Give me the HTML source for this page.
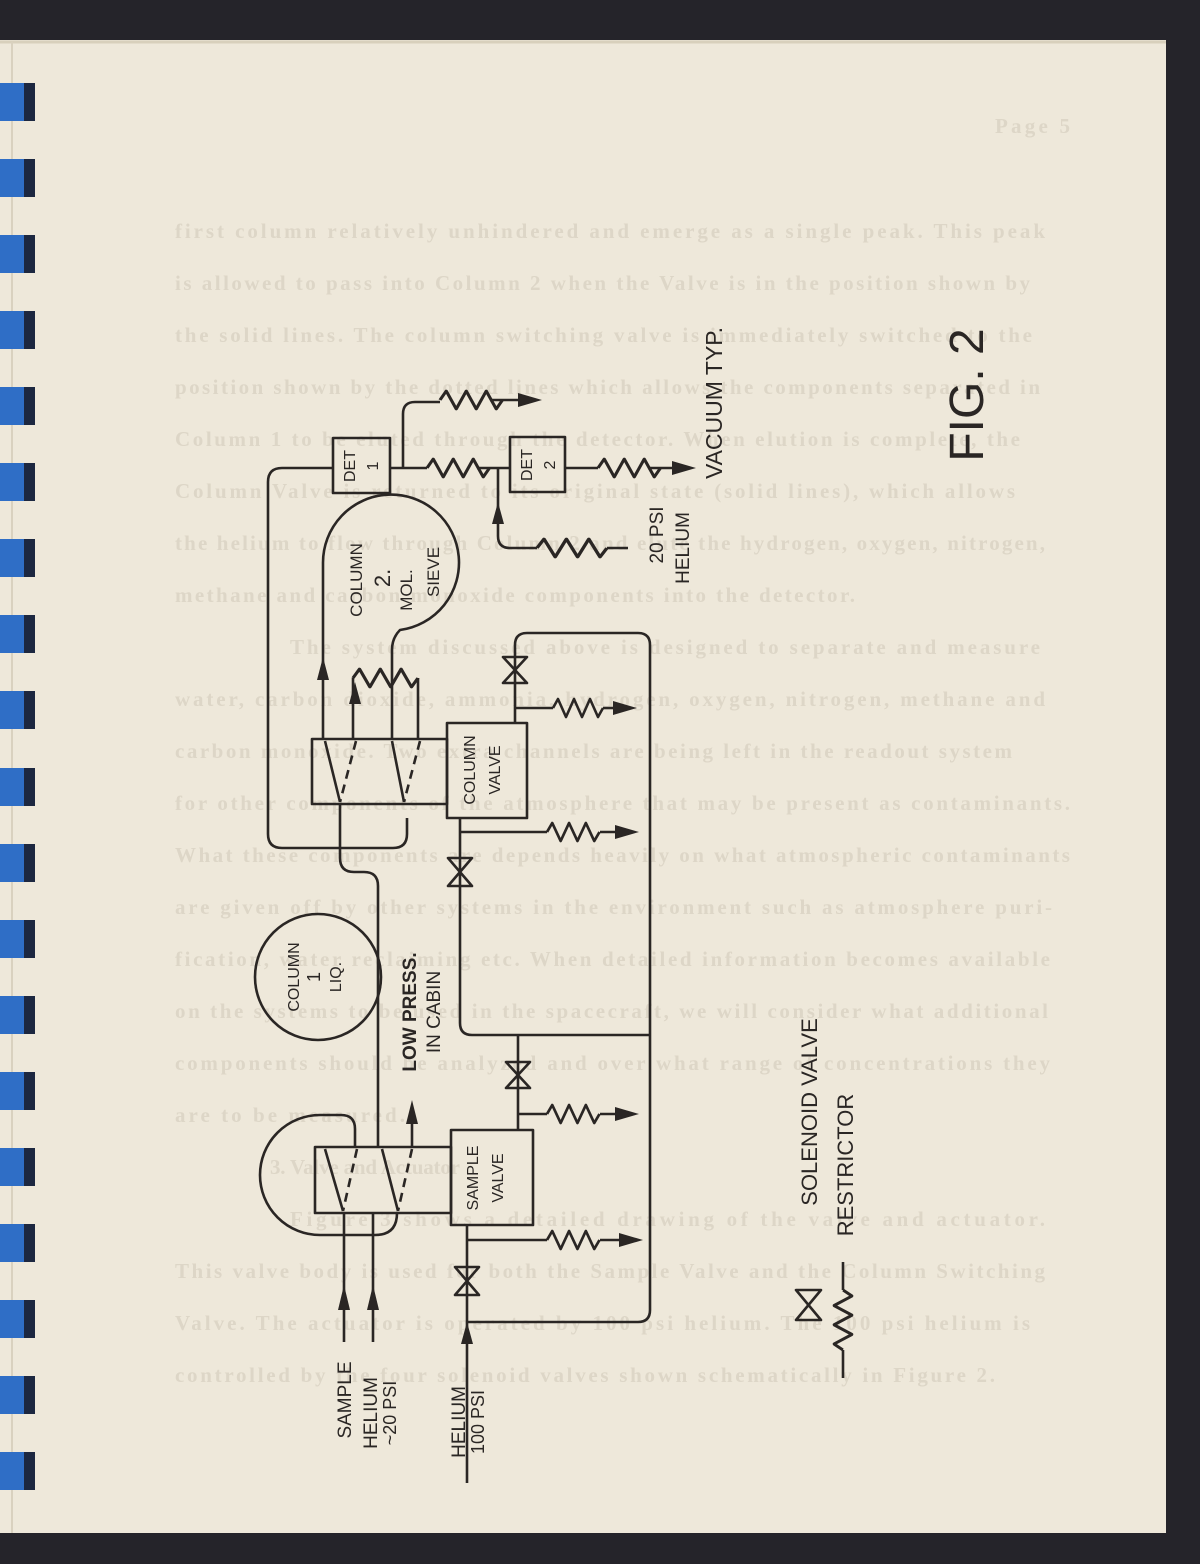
<!DOCTYPE html>
<html><head><meta charset="utf-8"><style>
html,body{margin:0;padding:0;background:#25242a;}
#wrap{position:relative;width:1200px;height:1564px;overflow:hidden;background:#25242a;}
svg{position:absolute;left:0;top:0;}
</style></head><body><div id="wrap">
<svg width="1200" height="1564" viewBox="0 0 1200 1564" xmlns="http://www.w3.org/2000/svg">
<defs>
<path id="rz" d="M0,0 l5,-9 l8,18 l8,-18 l8,18 l8,-18 l8,18 l5,-9"/>
</defs>
<rect x="0" y="40" width="1166" height="1493" fill="#eee8da"/>
<line x1="0" y1="42" x2="1166" y2="42" stroke="#d8d0bc" stroke-width="3"/>
<line x1="12" y1="42" x2="12" y2="1533" stroke="#d9d1bf" stroke-width="2"/>
<g font-family="Liberation Serif, serif" font-size="21" font-weight="bold" fill="#ddd6c7" lengthAdjust="spacing">
<text x="995" y="133" textLength="75">Page 5</text>
<text x="175" y="238" textLength="870">first column relatively unhindered and emerge as a single peak.  This peak</text>
<text x="175" y="290" textLength="855">is allowed to pass into Column 2 when the Valve is in the position shown by</text>
<text x="175" y="342" textLength="857">the solid lines.  The column switching valve is immediately switched to the</text>
<text x="175" y="394" textLength="865">position shown by the dotted lines which allows the components separated in</text>
<text x="175" y="446" textLength="845">Column 1 to be eluted through the detector.  When elution is complete, the</text>
<text x="175" y="498" textLength="840">Column Valve is returned to its original state (solid lines), which allows</text>
<text x="175" y="550" textLength="870">the helium to flow through Column 2 and elute the hydrogen, oxygen, nitrogen,</text>
<text x="175" y="602" textLength="680">methane and carbon monoxide components into the detector.</text>
<text x="290" y="654" textLength="750">The system discussed above is designed to separate and measure</text>
<text x="175" y="706" textLength="870">water, carbon dioxide, ammonia, hydrogen, oxygen, nitrogen, methane and</text>
<text x="175" y="758" textLength="837">carbon monoxide.  Two extra channels are being left in the readout system</text>
<text x="175" y="810" textLength="895">for other components of the atmosphere that may be present as contaminants.</text>
<text x="175" y="862" textLength="895">What these components are depends heavily on what atmospheric contaminants</text>
<text x="175" y="914" textLength="877">are given off by other systems in the environment such as atmosphere puri-</text>
<text x="175" y="966" textLength="875">fication, water reclaiming etc.  When detailed information becomes available</text>
<text x="175" y="1018" textLength="873">on the systems to be used in the spacecraft, we will consider what additional</text>
<text x="175" y="1070" textLength="875">components should be analyzed and over what range of concentrations they</text>
<text x="175" y="1122" textLength="230">are to be measured.</text>
<text x="270" y="1174" textLength="190">3.  Valve and Actuator</text>
<text x="290" y="1226" textLength="755">Figure 3 shows a detailed drawing of the valve and actuator.</text>
<text x="175" y="1278" textLength="870">This valve body is used for both the Sample Valve and the Column Switching</text>
<text x="175" y="1330" textLength="855">Valve.  The actuator is operated by 100 psi helium.  The 100 psi helium is</text>
<text x="175" y="1382" textLength="820">controlled by the four solenoid valves shown schematically in Figure 2.</text>
</g>
<g>
<rect x="0" y="83" width="24" height="38" fill="#2f6ec6"/><rect x="24" y="83" width="11" height="38" fill="#1c2740"/>
<rect x="0" y="159" width="24" height="38" fill="#2f6ec6"/><rect x="24" y="159" width="11" height="38" fill="#1c2740"/>
<rect x="0" y="235" width="24" height="38" fill="#2f6ec6"/><rect x="24" y="235" width="11" height="38" fill="#1c2740"/>
<rect x="0" y="311" width="24" height="38" fill="#2f6ec6"/><rect x="24" y="311" width="11" height="38" fill="#1c2740"/>
<rect x="0" y="387" width="24" height="38" fill="#2f6ec6"/><rect x="24" y="387" width="11" height="38" fill="#1c2740"/>
<rect x="0" y="463" width="24" height="38" fill="#2f6ec6"/><rect x="24" y="463" width="11" height="38" fill="#1c2740"/>
<rect x="0" y="539" width="24" height="38" fill="#2f6ec6"/><rect x="24" y="539" width="11" height="38" fill="#1c2740"/>
<rect x="0" y="615" width="24" height="38" fill="#2f6ec6"/><rect x="24" y="615" width="11" height="38" fill="#1c2740"/>
<rect x="0" y="691" width="24" height="38" fill="#2f6ec6"/><rect x="24" y="691" width="11" height="38" fill="#1c2740"/>
<rect x="0" y="768" width="24" height="38" fill="#2f6ec6"/><rect x="24" y="768" width="11" height="38" fill="#1c2740"/>
<rect x="0" y="844" width="24" height="38" fill="#2f6ec6"/><rect x="24" y="844" width="11" height="38" fill="#1c2740"/>
<rect x="0" y="920" width="24" height="38" fill="#2f6ec6"/><rect x="24" y="920" width="11" height="38" fill="#1c2740"/>
<rect x="0" y="996" width="24" height="38" fill="#2f6ec6"/><rect x="24" y="996" width="11" height="38" fill="#1c2740"/>
<rect x="0" y="1072" width="24" height="38" fill="#2f6ec6"/><rect x="24" y="1072" width="11" height="38" fill="#1c2740"/>
<rect x="0" y="1148" width="24" height="38" fill="#2f6ec6"/><rect x="24" y="1148" width="11" height="38" fill="#1c2740"/>
<rect x="0" y="1224" width="24" height="38" fill="#2f6ec6"/><rect x="24" y="1224" width="11" height="38" fill="#1c2740"/>
<rect x="0" y="1300" width="24" height="38" fill="#2f6ec6"/><rect x="24" y="1300" width="11" height="38" fill="#1c2740"/>
<rect x="0" y="1376" width="24" height="38" fill="#2f6ec6"/><rect x="24" y="1376" width="11" height="38" fill="#1c2740"/>
<rect x="0" y="1452" width="24" height="38" fill="#2f6ec6"/><rect x="24" y="1452" width="11" height="38" fill="#1c2740"/>
</g>
<g fill="none" stroke="#2a2624" stroke-width="2.6" stroke-linejoin="round">
<path d="M333,468 L282,468 Q268,468 268,482 L268,834 Q268,848 282,848 L393,848 Q407,848 407,834 L407,818"/>
<rect x="333" y="438" width="57" height="55"/>
<rect x="510" y="437" width="55" height="55"/>
<path d="M390,468 L427,468"/><use href="#rz" transform="translate(427,468) scale(1.25,1)"/><path d="M477,468 L510,468"/>
<path d="M403,468 L403,414 Q403,402 415,402 L440,402"/><use href="#rz" transform="translate(440,400) scale(1.25,1)"/><path d="M490,400 L522,400"/>
<path d="M565,468 L598,468"/><use href="#rz" transform="translate(598,468) scale(1.25,1)"/><path d="M648,468 L678,468"/>
<path d="M498,468 L498,536 Q498,548 510,548 L537,548"/><use href="#rz" transform="translate(537,548) scale(1.4,1)"/><path d="M607,548 L628,548"/>
<path d="M323,739 L323,563 A68,68 0 1 1 400,630 Q392,638 392,650 L392,739"/>
<path d="M353,739 L353,678"/><use href="#rz" transform="translate(353,678) scale(1.3,1)"/><path d="M418,678 L418,739"/>
<rect x="312" y="739" width="135" height="65"/>
<rect x="447" y="723" width="80" height="95"/>
<path d="M325,741 L340,802 M392,741 L404,802"/>
<path d="M356,741 L340,802 M420,741 L404,802" stroke-dasharray="9,6"/>
<path d="M515,723 L515,645 Q515,633 527,633 L638,633 Q650,633 650,645 L650,1310 Q650,1322 638,1322 L467,1322"/>
<path d="M515,708 L553,708"/><use href="#rz" transform="translate(553,708) scale(1.0,1)"/><path d="M603,708 L618,708"/>
<path d="M460,818 L460,1023 Q460,1035 472,1035 L650,1035"/>
<path d="M460,832 L547,832"/><use href="#rz" transform="translate(547,832) scale(1.05,1)"/><path d="M600,832 L620,832"/>
<path d="M518,1035 L518,1130"/>
<path d="M518,1114 L547,1114"/><use href="#rz" transform="translate(547,1114) scale(1.05,1)"/><path d="M600,1114 L620,1114"/>
<rect x="451" y="1130" width="82" height="95"/>
<rect x="315" y="1147" width="136" height="66"/>
<path d="M467,1225 L467,1483"/>
<path d="M467,1240 L547,1240"/><use href="#rz" transform="translate(547,1240) scale(1.05,1)"/><path d="M600,1240 L624,1240"/>
<circle cx="318" cy="977" r="63"/>
<path d="M340,804 L340,858 Q340,872 354,872 L364,872 Q378,872 378,886 L378,1147"/>
<path d="M355,1147 L355,1129 Q355,1115 341,1115 L320,1115 A60,60 0 0 0 320,1235 L375,1235 Q397,1235 397,1213"/>
<path d="M325,1149 L343,1211 M382,1149 L398,1211"/>
<path d="M357,1149 L343,1211 M412,1149 L398,1211" stroke-dasharray="9,6"/>
<path d="M412,1147 L412,1115"/>
<path d="M344,1213 L344,1342 M373,1213 L373,1342"/>
<path d="M843,1262 L843,1290"/><use href="#rz" transform="translate(843,1290) rotate(90) scale(1.2,1)"/><path d="M843,1350 L843,1378"/>
</g>
<g fill="none" stroke="#2a2624" stroke-width="2.6" stroke-linejoin="round">
<path d="M503,657 L527,657 L503,683 L527,683 Z"/>
<path d="M448,858 L472,858 L448,886 L472,886 Z"/>
<path d="M506,1062 L530,1062 L506,1088 L530,1088 Z"/>
<path d="M455,1267 L479,1267 L455,1295 L479,1295 Z"/>
<path d="M796,1290 L821,1290 L796,1320 L821,1320 Z"/>
</g>
<g fill="#2a2624">
<polygon points="542,400 518,393 518,407"/>
<polygon points="696,468 672,461 672,475"/>
<polygon points="637,708 613,701 613,715"/>
<polygon points="639,832 615,825 615,839"/>
<polygon points="639,1114 615,1107 615,1121"/>
<polygon points="643,1240 619,1233 619,1247"/>
<polygon points="498,502 492,524 504,524"/>
<polygon points="323,657 317,680 329,680"/>
<polygon points="355,682 349,704 361,704"/>
<polygon points="412,1100 406,1124 418,1124"/>
<polygon points="344,1285 338,1310 350,1310"/>
<polygon points="373,1285 367,1310 379,1310"/>
<polygon points="467,1322 461,1344 473,1344"/>
</g>
<g font-family="Liberation Sans, sans-serif" fill="#2a2624" text-anchor="middle">
<text transform="translate(355,466) rotate(-90)" font-size="16">DET</text>
<text transform="translate(378,466) rotate(-90)" font-size="16">1</text>
<text transform="translate(532,465) rotate(-90)" font-size="16">DET</text>
<text transform="translate(555,465) rotate(-90)" font-size="16">2</text>
<text transform="translate(362,580) rotate(-90)" font-size="17">COLUMN</text>
<text transform="translate(390,578) rotate(-90)" font-size="22">2.</text>
<text transform="translate(412,590) rotate(-90)" font-size="17">MOL.</text>
<text transform="translate(439,572) rotate(-90)" font-size="17">SIEVE</text>
<text transform="translate(475,770) rotate(-90)" font-size="16">COLUMN</text>
<text transform="translate(500,770) rotate(-90)" font-size="16">VALVE</text>
<text transform="translate(299,977) rotate(-90)" font-size="16">COLUMN</text>
<text transform="translate(320,977) rotate(-90)" font-size="18">1</text>
<text transform="translate(341,977) rotate(-90)" font-size="16">LIQ.</text>
<text transform="translate(416,1012) rotate(-90)" font-size="19" font-weight="bold">LOW PRESS.</text>
<text transform="translate(440,1012) rotate(-90)" font-size="19">IN CABIN</text>
<text transform="translate(478,1178) rotate(-90)" font-size="16">SAMPLE</text>
<text transform="translate(503,1178) rotate(-90)" font-size="16">VALVE</text>
<text transform="translate(663,535) rotate(-90)" font-size="19">20 PSI</text>
<text transform="translate(689,548) rotate(-90)" font-size="19">HELIUM</text>
<text transform="translate(722,403) rotate(-90)" font-size="23">VACUUM TYP.</text>
<text transform="translate(983,395) rotate(-90)" font-size="48">FIG. 2</text>
<text transform="translate(817,1112) rotate(-90)" font-size="22">SOLENOID VALVE</text>
<text transform="translate(853,1165) rotate(-90)" font-size="22">RESTRICTOR</text>
<text transform="translate(351,1400) rotate(-90)" font-size="19">SAMPLE</text>
<text transform="translate(377,1413) rotate(-90)" font-size="19">HELIUM</text>
<text transform="translate(396,1413) rotate(-90)" font-size="18">~20 PSI</text>
<text transform="translate(465,1422) rotate(-90)" font-size="19">HELIUM</text>
<text transform="translate(484,1422) rotate(-90)" font-size="18">100 PSI</text>
</g>
</svg>
</div></body></html>
